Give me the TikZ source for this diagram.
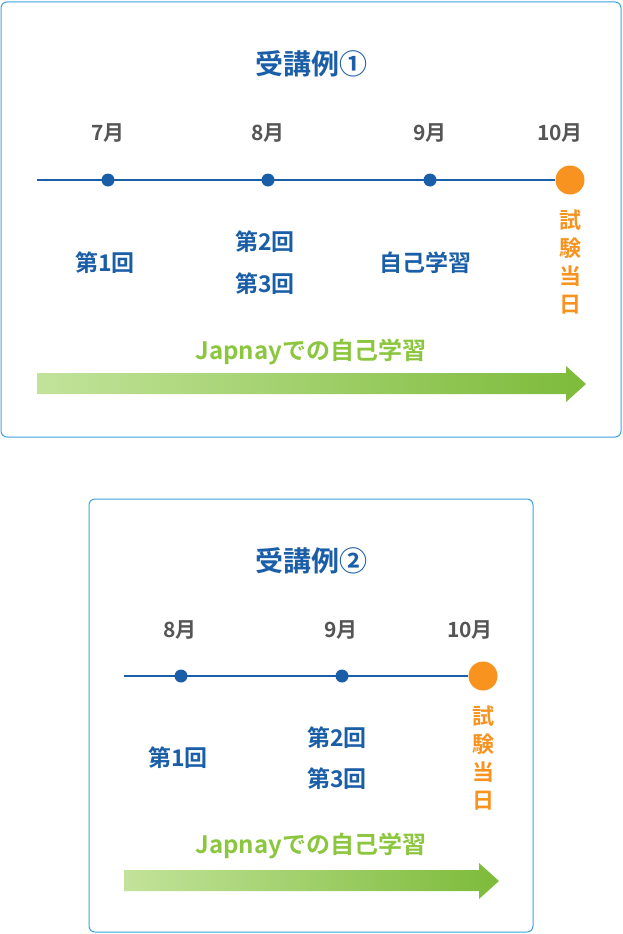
\documentclass[tikz,border=0pt]{standalone}
\usepackage{fontspec}
\setmainfont{Noto Sans CJK JP}[BoldFont={Noto Sans CJK JP Bold}]
\newfontfamily\jpb{Noto Sans CJK JP Bold}
\definecolor{frame}{HTML}{3FA0DC}
\definecolor{navy}{HTML}{1B5EA8}
\definecolor{greytxt}{HTML}{555555}
\definecolor{orng}{HTML}{F7931E}
\definecolor{grnA}{HTML}{C2E39A}
\definecolor{grnB}{HTML}{7DBB3A}
\definecolor{grnT}{HTML}{8CC63F}
\tikzset{
 box/.style={draw=frame,line width=1pt,rounded corners=6pt},
 ttl/.style={font=\jpb\fontsize{28}{28}\selectfont,text=navy},
 mon/.style={font=\jpb\fontsize{21}{21}\selectfont,text=greytxt},
 lbl/.style={font=\jpb\fontsize{23}{23}\selectfont,text=navy},
 exam/.style={font=\jpb\fontsize{22}{28}\selectfont,text=orng,align=center},
 grt/.style={font=\jpb\fontsize{24}{24}\selectfont,text=grnT},
 tl/.style={draw=navy,line width=1.5pt},
 dot/.style={circle,fill=navy,inner sep=0pt,minimum size=13pt},
 big/.style={circle,fill=orng,inner sep=0pt,minimum size=29pt},
 garr/.style={left color=grnA,right color=grnB,draw=none}
}
\begin{document}
\begin{tikzpicture}[x=1pt,y=-1pt]
\useasboundingbox (0,0) rectangle (622,934);
% box 1
\draw[box] (1,2) rectangle (621,437);
\node[ttl] (t1) at (311,64) {受講例①};
\node[mon] (m7) at (108,133) {7月};
\node[mon] (m8) at (268,133) {8月};
\node[mon] (m9) at (430,133) {9月};
\node[mon] (m10) at (560,133) {10月};
\coordinate (s1) at (37,180);
\node[big] (e1) at (570,180) {};
\draw[tl] (s1) -- (e1);
\node[dot] (d7) at (108,180) {};
\node[dot] (d8) at (268,180) {};
\node[dot] (d9) at (430,180) {};
\node[exam] (x1) at (570,262) {試\\験\\当\\日};
\node[lbl] (a1) at (105,263) {第1回};
\node[lbl] (a2) at (265,242) {第2回};
\node[lbl] (a3) at (265,284) {第3回};
\node[lbl] (a4) at (425,263) {自己学習};
\node[grt] (g1) at (311,352) {Japnayでの自己学習};
\shade[garr] (37,373) -- (566,373) -- (566,366) -- (586,384) -- (566,402) -- (566,394) -- (37,394) -- cycle;
% box 2
\draw[box] (89,499) rectangle (533,932);
\node[ttl] (t2) at (311,561) {受講例②};
\node[mon] (n8) at (180,630) {8月};
\node[mon] (n9) at (341,630) {9月};
\node[mon] (n10) at (470,630) {10月};
\coordinate (s2) at (124,676);
\node[big] (e2) at (483,676) {};
\draw[tl] (s2) -- (e2);
\node[dot] (c8) at (181,676) {};
\node[dot] (c9) at (342,676) {};
\node[exam] (x2) at (483,758) {試\\験\\当\\日};
\node[lbl] (b1) at (178,758) {第1回};
\node[lbl] (b2) at (337,738) {第2回};
\node[lbl] (b3) at (337,779) {第3回};
\node[grt] (g2) at (311,846) {Japnayでの自己学習};
\shade[garr] (124,870) -- (479,870) -- (479,863) -- (499,881) -- (479,899) -- (479,891) -- (124,891) -- cycle;
\end{tikzpicture}
\end{document}
